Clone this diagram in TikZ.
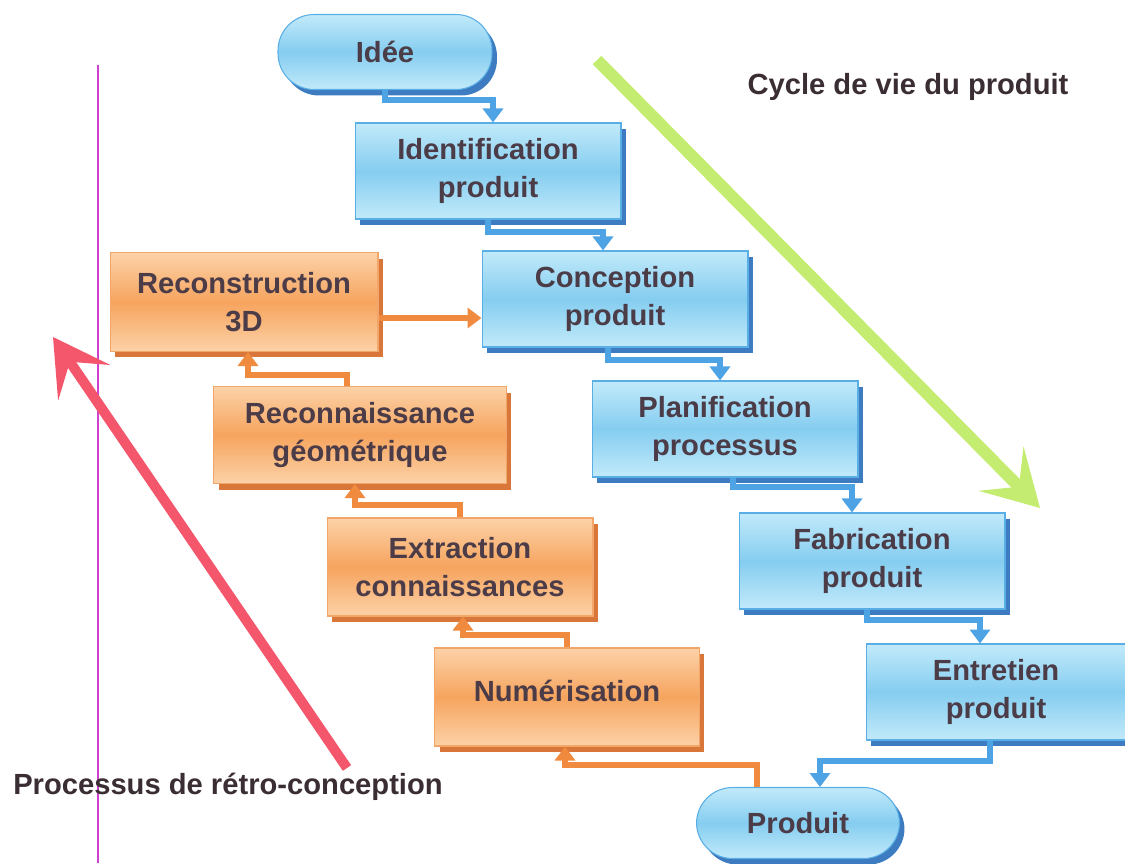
\documentclass[tikz,border=0pt]{standalone}
\usepackage{fontspec}
\setmainfont{Liberation Sans}
\usepackage{xcolor}
\usetikzlibrary{arrows.meta,shadows}

\definecolor{boxtext}{HTML}{4B3C48}
\definecolor{captext}{HTML}{3A2E34}
\definecolor{bluetop}{HTML}{C2EAFA}
\definecolor{bluemid}{HTML}{85CDF0}
\definecolor{blueline}{HTML}{5AAEE6}
\definecolor{blueshade}{HTML}{3D7CC0}
\definecolor{orangetop}{HTML}{FCD2A8}
\definecolor{orangemid}{HTML}{F6A45E}
\definecolor{orangeline}{HTML}{F3A66A}
\definecolor{orangeshade}{HTML}{D9773A}
\definecolor{linkblue}{HTML}{4DA3E3}
\definecolor{linkorange}{HTML}{F08A3E}
\definecolor{cyclegreen}{HTML}{C4EC70}
\definecolor{retrored}{HTML}{F4566C}
\definecolor{sepline}{HTML}{D040D0}

\tikzset{
	boxfont/.style={font=\fontsize{16.6}{21.5}\selectfont\bfseries, text=boxtext, align=center},
	lifebox/.style={boxfont, rectangle, draw=blueline, line width=0.6pt,
		top color=bluetop, bottom color=bluetop, middle color=bluemid,
		minimum width=5.32cm, minimum height=1.92cm,
		drop shadow={shadow xshift=0.1cm, shadow yshift=-0.12cm, opacity=1, fill=blueshade}},
	retrobox/.style={lifebox, draw=orangeline,
		top color=orangetop, bottom color=orangetop, middle color=orangemid,
		drop shadow={shadow xshift=0.1cm, shadow yshift=-0.12cm, opacity=1, fill=orangeshade}},
	pill/.style={lifebox, rounded corners=0.72cm, minimum height=1.5cm},
	lifelink/.style={draw=linkblue, line width=0.12cm,
		-{Triangle[width=0.4cm,length=0.28cm]}},
	retrolink/.style={lifelink, draw=linkorange},
	bigarrow/.style={line width=0.24cm, -{Stealth[length=1.1cm,width=1.25cm,inset=0.5cm]}},
	caption/.style={font=\fontsize{16.6}{20}\selectfont\bfseries, text=captext}
}

\begin{document}
\begin{tikzpicture}[x=0.02cm, y=-0.02cm]
	\useasboundingbox (0,0) rectangle (1125,863);

	% separator and the two big arrows
	\draw[sepline, line width=1.1pt] (98,65) -- (98,863);
	\coordinate (gs) at (597,60);
	\coordinate (ge) at (1040,508);
	\draw[bigarrow, cyclegreen] (gs) -- (ge);
	\coordinate (rs) at (347,768);
	\coordinate (re) at (53,337);
	\draw[bigarrow, retrored, line width=0.2cm] (rs) -- (re);

	% product life cycle
	\node[pill, minimum width=4.28cm] (idee) at (385,52) {Idée};
	\node[lifebox] (ident) at (488,171) {Identification\\produit};
	\node[lifebox] (conc) at (615,299) {Conception\\produit};
	\node[lifebox] (plan) at (725,429) {Planification\\processus};
	\node[lifebox] (fab) at (872,561) {Fabrication\\produit};
	\node[lifebox, minimum width=5.2cm] (entr) at (996,692) {Entretien\\produit};
	\node[pill, minimum width=4.06cm, minimum height=1.42cm] (prod) at (798,823) {Produit};

	% reverse engineering
	\node[retrobox, minimum width=5.36cm, minimum height=1.98cm] (rec) at (244,302) {Reconstruction\\3D};
	\node[retrobox, minimum width=5.86cm, minimum height=1.94cm] (reco) at (360,435) {Reconnaissance\\géométrique};
	\node[retrobox, minimum height=1.96cm] (extr) at (460,567) {Extraction\\connaissances};
	\node[retrobox, minimum width=5.3cm, minimum height=1.96cm] (num) at (567,697) {\raisebox{0.26cm}{Numérisation}};

	\draw[lifelink] (idee.south) -- ++(0,10) -| ([xshift=0.1cm]ident.north);
	\draw[lifelink] (ident.south) -- ++(0,12) -| ([xshift=-0.24cm]conc.north);
	\draw[lifelink] ([xshift=-0.14cm]conc.south) -- ++(0,12) -| ([xshift=-0.1cm]plan.north);
	\draw[lifelink] ([xshift=0.16cm]plan.south) -- ++(0,9) -| ([xshift=-0.4cm]fab.north);
	\draw[lifelink] ([xshift=-0.1cm]fab.south) -- ++(0,10) -| ([xshift=-0.32cm]entr.north);
	\draw[lifelink] ([xshift=-0.12cm]entr.south) -- ++(0,20) -| ([xshift=0.44cm]prod.north);

	\draw[retrolink] ([xshift=-0.82cm]prod.north) -- ++(0,-22) -| ([xshift=-0.04cm]num.south);
	\draw[retrolink] (num.north) -- ++(0,-12) -| ([xshift=0.06cm]extr.south);
	\draw[retrolink] (extr.north) -- ++(0,-12) -| ([xshift=-0.1cm]reco.south);
	\draw[retrolink] ([xshift=-0.26cm]reco.north) -- ++(0,-11) -| ([xshift=0.08cm]rec.south);
	\draw[retrolink] ([yshift=-0.32cm]rec.east) -- ([yshift=-0.32cm]rec.east -| conc.west);

	\node[caption] (cycle) at (908,87) {Cycle de vie du produit};
	\node[caption] (retro) at (228,787) {Processus de rétro-conception};
\end{tikzpicture}
\end{document}
